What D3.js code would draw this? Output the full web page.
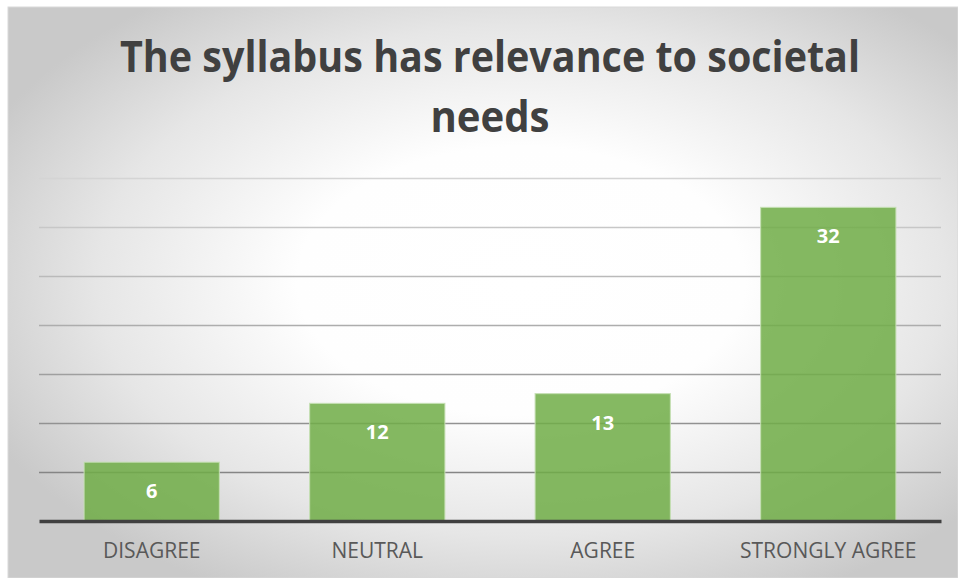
<!DOCTYPE html>
<html lang="en">
    <head>
        <meta charset="utf-8">
        <title>The syllabus has relevance to societal needs</title>
        <script type="text/javascript" src="https://cdn.jsdelivr.net/npm/d3@7"></script>
        <style type="text/css">
        body { margin: 0; background: #fff; }
        svg { display: block; }
        </style>
    </head>
    <body>
        <script type="text/javascript">
            // Size of the picture
            var w = 958;
            var h = 578;

            // Data
            var categories = ["DISAGREE", "NEUTRAL", "AGREE", "STRONGLY AGREE"];
            var responses = [6, 12, 13, 32];
            var gridTicks = [5, 10, 15, 20, 25, 30, 35];
            var titleLines = ["The syllabus has relevance to societal", "needs"];

            var svg = d3.select("body")
                        .append("svg")
                        .attr("width", w)
                        .attr("height", h);

            // Radial background: white in the middle, grey towards the edges
            var defs = svg.append("defs");
            var grad = defs.append("radialGradient")
                .attr("id", "bg")
                .attr("cx", "54%").attr("cy", "48%")
                .attr("r", "62%");
            grad.append("stop").attr("offset", "0%").attr("stop-color", "#ffffff");
            grad.append("stop").attr("offset", "38%").attr("stop-color", "#fefefe");
            grad.append("stop").attr("offset", "72%").attr("stop-color", "#e6e6e6");
            grad.append("stop").attr("offset", "100%").attr("stop-color", "#c9c9c9");

            svg.append("rect")
                .attr("x", 8).attr("y", 7)
                .attr("width", w - 8).attr("height", h - 7)
                .attr("fill", "url(#bg)")
                .attr("stroke", "#d9d9d9");

            // Scales
            var x = d3.scaleBand()
                .domain(categories)
                .range([39, 941])
                .paddingInner(0.4)
                .paddingOuter(0.2);

            var y = d3.scaleLinear()
                .domain([0, 35])
                .range([521, 178]);

            // gridlines get lighter as they go up
            var gridColor = d3.scaleLinear()
                .domain([5, 35])
                .range(["#858585", "#d4d4d4"]);

            svg.append("g")
                .selectAll("line")
                .data(gridTicks)
                .enter()
                .append("line")
                .attr("x1", 39)
                .attr("x2", 941)
                .attr("y1", function(d) { return Math.round(y(d)) + 0.5; })
                .attr("y2", function(d) { return Math.round(y(d)) + 0.5; })
                .attr("stroke", function(d) { return gridColor(d); })
                .attr("stroke-width", 1.3);

            // Bars (slightly see-through, gridlines show behind)
            svg.selectAll("rect.bar")
                .data(responses)
                .enter()
                .append("rect")
                .attr("class", "bar")
                .attr("x", function(d, i) { return x(categories[i]); })
                .attr("y", function(d) { return y(d); })
                .attr("width", x.bandwidth())
                .attr("height", function(d) { return y(0) - y(d); })
                .attr("fill", "#70ad47")
                .attr("fill-opacity", 0.85)
                .attr("stroke", "#c5e0b4")
                .attr("stroke-opacity", 0.8)
                .attr("stroke-width", 1.2);

            // Value labels inside the bars
            svg.selectAll("text.value")
                .data(responses)
                .enter()
                .append("text")
                .attr("class", "value")
                .text(function(d) { return d; })
                .attr("x", function(d, i) { return x(categories[i]) + x.bandwidth() / 2; })
                .attr("y", function(d) { return y(d) + 36; })
                .attr("text-anchor", "middle")
                .attr("font-family", "'Open Sans', sans-serif")
                .attr("font-weight", "bold")
                .attr("font-size", "20px")
                .attr("fill", "#ffffff");

            // Category axis
            var xAxis = d3.axisBottom(x).tickSize(0).tickPadding(24);
            var ax = svg.append("g")
                .attr("transform", "translate(0," + y(0) + ")")
                .call(xAxis);
            ax.select(".domain")
                .attr("stroke", "#404040")
                .attr("stroke-width", 3.5);
            ax.selectAll("text")
                .attr("font-family", "'Open Sans', sans-serif")
                .attr("font-size", "21px")
                .attr("fill", "#595959")
                .attr("dy", "0.6em");

            // Title, two lines
            svg.selectAll("text.title")
                .data(titleLines)
                .enter()
                .append("text")
                .attr("class", "title")
                .text(function(d) { return d; })
                .attr("x", 490)
                .attr("y", function(d, i) { return 72 + i * 60; })
                .attr("text-anchor", "middle")
                .attr("font-family", "'Open Sans', sans-serif")
                .attr("font-weight", "bold")
                .attr("font-size", "43px")
                .attr("fill", "#404040")
                .attr("textLength", function(d, i) { return i === 0 ? 740 : 119; })
                .attr("lengthAdjust", "spacingAndGlyphs");
        </script>
    </body>
</html>
